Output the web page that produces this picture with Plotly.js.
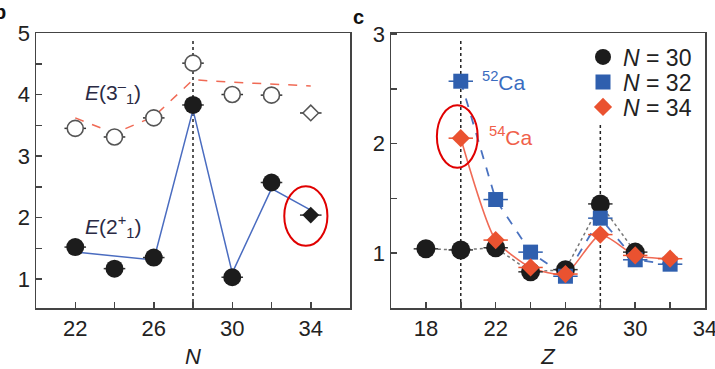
<!DOCTYPE html>
<html><head><meta charset="utf-8">
<script src="https://cdn.plot.ly/plotly-3.0.1.min.js"></script>
<style>html,body{margin:0;padding:0;background:#fff}#c{width:715px;height:369px}</style>
</head><body><div id="c"></div>
<script>
// Panel b: excitation energies vs neutron number N
const neutronN = [22, 24, 26, 28, 30, 32, 34];
const e2Exp = [1.52, 1.17, 1.35, 3.83, 1.03, 2.57, 2.04];
const e3Exp = [3.45, 3.31, 3.62, 4.51, 4.00, 3.99, 3.70];
const e2TheoryN = [22, 26, 28, 30, 32, 34];
const e2Theory = [1.44, 1.31, 3.75, 1.10, 2.47, 2.12];
const e3TheoryN = [22, 24, 26, 28, 30, 32, 34];
const e3Theory = [3.62, 3.37, 3.64, 4.24, 4.20, 4.17, 4.14];

// Panel c: E(2+) vs proton number Z for isotones
const zN30 = [18, 20, 22, 24, 26, 28, 30];
const eN30 = [1.04, 1.03, 1.05, 0.83, 0.85, 1.45, 1.01];
const zN32 = [20, 22, 24, 26, 28, 30, 32];
const eN32 = [2.57, 1.49, 1.01, 0.79, 1.32, 0.94, 0.90];
const zN34 = [20, 22, 24, 26, 28, 30, 32];
const eN34 = [2.05, 1.12, 0.87, 0.81, 1.17, 0.98, 0.95];
const seriesNames = ['<i>N</i> = 30', '<i>N</i> = 32', '<i>N</i> = 34'];

const magicN = 28, magicZ = [20, 28];
const errN = 0.55, errZ = 0.7;

const F = 'Arial, "Liberation Sans", sans-serif';
const black = '#1c1c1c', blue = '#2f5fae', red = '#ea5230', redLine = '#f06a55';

const traces = [
  // left panel lines
  {x: e3TheoryN, y: e3Theory, mode: 'lines', line: {color: redLine, width: 1.5, dash: 'dash'}, showlegend: false, xaxis: 'x', yaxis: 'y'},
  {x: e2TheoryN, y: e2Theory, mode: 'lines', line: {color: '#4a6cc0', width: 1.5}, showlegend: false, xaxis: 'x', yaxis: 'y'},
  // left panel markers
  {x: neutronN.slice(0, 6), y: e3Exp.slice(0, 6), mode: 'markers', marker: {symbol: 'circle', size: 16, color: '#fff', line: {color: '#555', width: 1.6}},
   error_x: {type: 'constant', value: errN, width: 0, thickness: 1.5, color: '#333'}, showlegend: false, xaxis: 'x', yaxis: 'y'},
  {x: neutronN.slice(6), y: e3Exp.slice(6), mode: 'markers', marker: {symbol: 'diamond', size: 12, color: '#fff', line: {color: '#555', width: 1.5}},
   error_x: {type: 'constant', value: errN, width: 0, thickness: 1.5, color: '#333'}, showlegend: false, xaxis: 'x', yaxis: 'y'},
  {x: neutronN.slice(0, 6), y: e2Exp.slice(0, 6), mode: 'markers', marker: {symbol: 'circle', size: 18, color: black},
   error_x: {type: 'constant', value: errN, width: 0, thickness: 1.5, color: '#333'}, showlegend: false, xaxis: 'x', yaxis: 'y'},
  {x: neutronN.slice(6), y: e2Exp.slice(6), mode: 'markers', marker: {symbol: 'diamond', size: 13, color: black},
   error_x: {type: 'constant', value: errN, width: 0, thickness: 1.5, color: '#333'}, showlegend: false, xaxis: 'x', yaxis: 'y'},
  // right panel lines
  {x: zN30, y: eN30, mode: 'lines', line: {color: '#777', width: 1.5, dash: 'dot'}, showlegend: false, xaxis: 'x2', yaxis: 'y2'},
  {x: zN32, y: eN32, mode: 'lines', line: {color: '#4a72c0', width: 1.8, dash: 'dash'}, showlegend: false, xaxis: 'x2', yaxis: 'y2'},
  {x: zN34, y: eN34, mode: 'lines', line: {color: redLine, width: 1.6, shape: 'spline', smoothing: 0.6}, showlegend: false, xaxis: 'x2', yaxis: 'y2'},
  // right panel markers
  {x: zN30, y: eN30, name: seriesNames[0], legend: 'legend', mode: 'markers', marker: {symbol: 'circle', size: 19, color: black},
   error_x: {type: 'constant', value: errZ, width: 0, thickness: 1.5, color: '#333'}, xaxis: 'x2', yaxis: 'y2'},
  {x: zN32, y: eN32, name: seriesNames[1], legend: 'legend2', mode: 'markers', marker: {symbol: 'square', size: 15, color: blue},
   error_x: {type: 'constant', value: errZ, width: 0, thickness: 1.5, color: blue}, xaxis: 'x2', yaxis: 'y2'},
  {x: zN34, y: eN34, name: seriesNames[2], legend: 'legend3', mode: 'markers', marker: {symbol: 'diamond', size: 14, color: red},
   error_x: {type: 'constant', value: errZ, width: 0, thickness: 1.5, color: red}, xaxis: 'x2', yaxis: 'y2'}
];

const axBase = {showline: true, mirror: true, linecolor: '#444', linewidth: 1.5, ticks: 'inside', ticklen: 6, tickwidth: 1.5,
  tickcolor: '#444', showgrid: false, zeroline: false, ticklabeloverflow: 'allow', tickfont: {family: F, size: 22, color: '#222'}};
const minorBase = {ticks: 'inside', ticklen: 6, tickwidth: 1.5, tickcolor: '#444'};
const legBase = {x: 583/715, xanchor: 'left', yanchor: 'middle', bgcolor: 'rgba(0,0,0,0)', itemwidth: 30,
  font: {family: F, size: 23, color: '#222'}};

const layout = {
  width: 715, height: 369, paper_bgcolor: '#fff', plot_bgcolor: '#fff',
  margin: {l: 0, r: 0, t: 33, b: 61},
  font: {family: F, color: '#222'},
  xaxis: Object.assign({}, axBase, {domain: [36/715, 350/715], range: [20, 36], tickmode: 'array', tickvals: [22, 26, 30, 34],
    minor: Object.assign({tickvals: [24, 28, 32]}, minorBase),
    title: {text: '<i>N</i>', font: {family: F, size: 22, color: '#222'}, standoff: 12}}),
  yaxis: Object.assign({}, axBase, {domain: [0, 1], range: [0.53, 5.0], tickvals: [1, 2, 3, 4, 5], tickmode: 'array',
    minor: Object.assign({tickvals: [1.5, 2.5, 3.5, 4.5]}, minorBase)}),
  xaxis2: Object.assign({}, axBase, {domain: [391/715, 705/715], range: [16, 34], tickmode: 'array', tickvals: [18, 22, 26, 30, 34],
    minor: Object.assign({tickvals: [20, 24, 28, 32]}, minorBase), anchor: 'y2',
    title: {text: '<i>Z</i>', font: {family: F, size: 22, color: '#222'}, standoff: 12}}),
  yaxis2: Object.assign({}, axBase, {domain: [0, 1], range: [0.5, 3.01], tickmode: 'array', tickvals: [1, 2, 3], anchor: 'x2',
    minor: Object.assign({tickvals: [1.5, 2.5]}, minorBase)}),
  legend: Object.assign({}, legBase, {y: (308 - 57) / 275}),
  legend2: Object.assign({}, legBase, {y: (308 - 82) / 275}),
  legend3: Object.assign({}, legBase, {y: (308 - 107) / 275}),
  shapes: [
    {type: 'line', xref: 'x', yref: 'y domain', x0: magicN, x1: magicN, y0: 0, y1: 0.975, line: {color: '#222', width: 1.5, dash: 'dot'}, layer: 'below'},
    {type: 'line', xref: 'x2', yref: 'y2 domain', x0: magicZ[0], x1: magicZ[0], y0: 0, y1: 0.975, line: {color: '#222', width: 1.5, dash: 'dot'}, layer: 'below'},
    {type: 'line', xref: 'x2', yref: 'y2', x0: magicZ[1], x1: magicZ[1], y0: 0.5, y1: 2.17, line: {color: '#222', width: 1.5, dash: 'dot'}, layer: 'below'},
    {type: 'circle', xref: 'x', yref: 'y', x0: 32.65, x1: 34.85, y0: 1.54, y1: 2.51, line: {color: '#e00000', width: 2}},
    {type: 'circle', xref: 'x2', yref: 'y2', x0: 18.63, x1: 20.97, y0: 1.78, y1: 2.35, line: {color: '#e00000', width: 2}}
  ],
  annotations: [
    {xref: 'x', yref: 'y', x: 22.4, y: 4.04, xanchor: 'left', yanchor: 'middle', showarrow: false,
     text: '<i>E</i>(3<sup>–</sup><sub>1</sub>)', font: {family: F, size: 21, color: '#2a2a44'}},
    {xref: 'x', yref: 'y', x: 22.4, y: 1.85, xanchor: 'left', yanchor: 'middle', showarrow: false,
     text: '<i>E</i>(2<sup>+</sup><sub>1</sub>)', font: {family: F, size: 21, color: '#2a2a44'}},
    {xref: 'x2', yref: 'y2', x: 21.1, y: 2.57, xanchor: 'left', yanchor: 'middle', showarrow: false,
     text: '<sup>52</sup>Ca', font: {family: F, size: 21, color: '#3a6cc0'}},
    {xref: 'x2', yref: 'y2', x: 21.5, y: 2.07, xanchor: 'left', yanchor: 'middle', showarrow: false,
     text: '<sup>54</sup>Ca', font: {family: F, size: 21, color: '#f0604a'}},
    {xref: 'paper', yref: 'paper', x: -8/715, y: (308 - 12) / 275, xanchor: 'left', yanchor: 'middle', showarrow: false,
     text: '<b>b</b>', font: {family: F, size: 20, color: '#111'}},
    {xref: 'paper', yref: 'paper', x: 351/715, y: (308 - 17) / 275, xanchor: 'left', yanchor: 'middle', showarrow: false,
     text: '<b>c</b>', font: {family: F, size: 20, color: '#111'}}
  ]
};

Plotly.newPlot('c', traces, layout, {staticPlot: true, displayModeBar: false});
</script></body></html>
